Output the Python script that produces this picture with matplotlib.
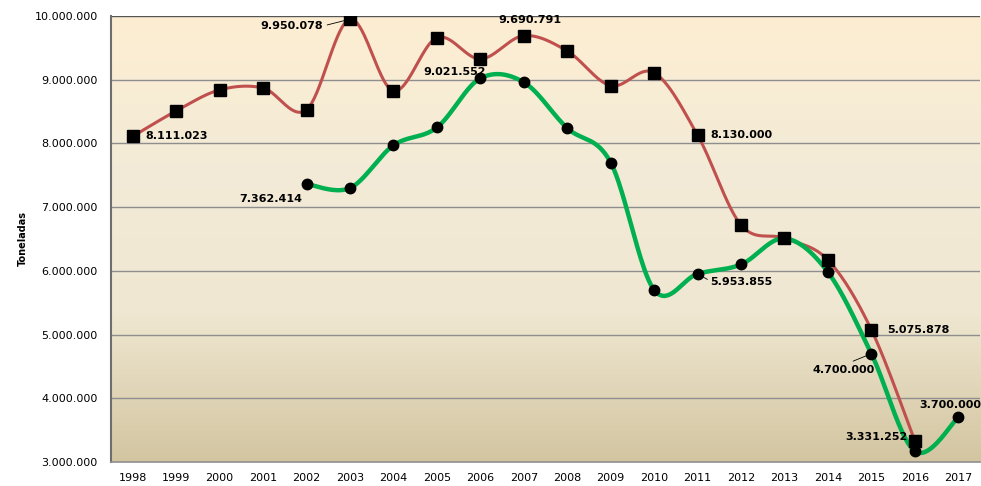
import matplotlib.pyplot as plt
import numpy as np
from matplotlib.colors import LinearSegmentedColormap

years = list(range(1998, 2018))
year_labels = [str(y) for y in years]

# toneladas, red series (squares) 1998-2016
red_years = list(range(1998, 2017))
red_values = [8111023, 8510000, 8840000, 8870000, 8530000, 9950078, 8823000,
              9660000, 9325000, 9690791, 9450000, 8906000, 9110000, 8130000,
              6720000, 6510000, 6170000, 5075878, 3331252]

# green series (circles) 2002-2017
green_years = list(range(2002, 2018))
green_values = [7362414, 7300000, 7970000, 8250000, 9021552, 8960000, 8240000,
                7700000, 5700000, 5953855, 6100000, 6510000, 5980000, 4700000,
                3170000, 3700000]

y_ticks = [3000000, 4000000, 5000000, 6000000, 7000000, 8000000, 9000000, 10000000]

COLORS = {
    "red": "#C0504D",
    "green": "#00B050",
    "grid": "#8E8E8E",
    "axis": "#6E6E6E",
}


def smooth(xs, ys, n=40):
    """Excel-like smoothed line: Catmull-Rom via cubic Bezier segments."""
    xs = np.asarray(xs, dtype=float)
    ys = np.asarray(ys, dtype=float)
    px = np.concatenate([[xs[0]], xs, [xs[-1]]])
    py = np.concatenate([[ys[0]], ys, [ys[-1]]])
    out_x, out_y = [], []
    t = np.linspace(0, 1, n)
    for i in range(1, len(px) - 2):
        p0 = np.array([px[i], py[i]])
        p3 = np.array([px[i + 1], py[i + 1]])
        c1 = p0 + (np.array([px[i + 1], py[i + 1]]) - np.array([px[i - 1], py[i - 1]])) / 6.0
        c2 = p3 - (np.array([px[i + 2], py[i + 2]]) - np.array([px[i], py[i]])) / 6.0
        b = ((1 - t) ** 3)[:, None] * p0 + (3 * (1 - t) ** 2 * t)[:, None] * c1 \
            + (3 * (1 - t) * t ** 2)[:, None] * c2 + (t ** 3)[:, None] * p3
        out_x.extend(b[:, 0])
        out_y.extend(b[:, 1])
    return np.array(out_x), np.array(out_y)


def fmt(v):
    return f"{v:,.0f}".replace(",", ".")


fig = plt.figure(figsize=(9.81, 4.86), dpi=100, facecolor="white")
ax = fig.add_axes([111 / 981, 24 / 486, 869 / 981, 446 / 486])

cmap = LinearSegmentedColormap.from_list(
    "bg", ["#FDEED2", "#F3EBD7", "#EFE7D1", "#D3C5A1"])
grad = np.linspace(0, 1, 256)[:, None]
ax.imshow(grad, extent=[0, 1, 0, 1], transform=ax.transAxes, aspect="auto",
          cmap=cmap, zorder=0)

ax.set_xlim(1997.5, 2017.5)
ax.set_ylim(3000000, 10000000)
for v in y_ticks[1:]:
    ax.axhline(v, color=COLORS["grid"] if v < 10000000 else "#555555",
               linewidth=1.0, zorder=1)

rx, ry = smooth(red_years, red_values)
ax.plot(rx, ry, color=COLORS["red"], linewidth=2.2, zorder=3)
ax.plot(red_years, red_values, linestyle="none", marker="s", markersize=8,
        color="black", zorder=5)

gx, gy = smooth(green_years, green_values)
ax.plot(gx, gy, color=COLORS["green"], linewidth=3.2, zorder=4)
ax.plot(green_years, green_values, linestyle="none", marker="o", markersize=7.5,
        color="black", zorder=6)

lab = dict(fontsize=8, fontweight="bold", color="black", zorder=7)
leader = dict(arrowstyle="-", color="black", lw=0.6)
ax.text(1998.3, red_values[0], fmt(red_values[0]), va="center", ha="left", **lab)
ax.annotate(fmt(red_values[5]), (2003, red_values[5]), xytext=(2002.38, 9843000),
            va="center", ha="right",
            arrowprops=dict(relpos=(1.0, 0.5), shrinkA=1, shrinkB=4, **leader), **lab)
ax.text(2007.15, 9930000, fmt(red_values[9]), ha="center", va="center", **lab)
ax.text(2005.4, 9120000, fmt(green_values[4]), ha="center", va="center", **lab)
ax.text(2001.9, 7128000, fmt(green_values[0]), ha="right", va="center", **lab)
ax.text(2011.3, red_values[13], fmt(red_values[13]), ha="left", va="center", **lab)
ax.annotate(fmt(green_values[9]), (2011, green_values[9]), xytext=(2011.29, 5825000),
            va="center", ha="left",
            arrowprops=dict(relpos=(0.0, 0.6), shrinkA=0, shrinkB=3, **leader), **lab)
ax.text(2015.36, red_values[17], fmt(red_values[17]), ha="left", va="center", **lab)
ax.annotate(fmt(green_values[13]), (2015, green_values[13]), xytext=(2015.08, 4444000),
            va="center", ha="right",
            arrowprops=dict(relpos=(0.5, 1.0), shrinkA=2, shrinkB=4, **leader), **lab)
ax.text(2015.84, 3392000, fmt(red_values[18]), ha="right", va="center", **lab)
ax.text(2017.52, 3895000, fmt(green_values[15]), ha="right", va="center", **lab)

ax.set_xticks(years)
ax.set_xticklabels(year_labels)
ax.set_yticks(y_ticks)
ax.set_yticklabels([fmt(v) for v in y_ticks])
ax.tick_params(axis="both", length=0, labelsize=8, colors="black")
ax.tick_params(axis="x", pad=8)
ax.tick_params(axis="y", pad=9.5)
ax.set_ylabel("Toneladas", fontsize=7, fontweight="bold", labelpad=5)

for side in ["top", "right"]:
    ax.spines[side].set_visible(False)
ax.spines["left"].set_color(COLORS["axis"])
ax.spines["left"].set_linewidth(1.5)
ax.spines["bottom"].set_color(COLORS["grid"])
ax.spines["bottom"].set_linewidth(1.2)

fig.savefig("out.png", dpi=100)
